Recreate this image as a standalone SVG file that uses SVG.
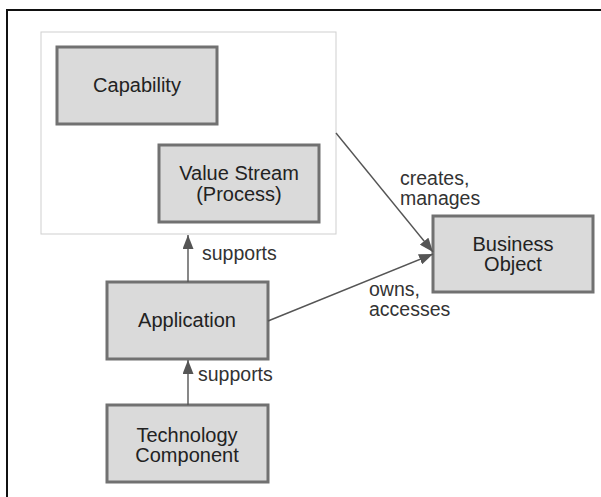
<svg xmlns="http://www.w3.org/2000/svg" width="601" height="497" viewBox="0 0 601 497">
<style>
.box{fill:#dadada;stroke:#717171;stroke-width:3}
.t{font-family:"Liberation Sans",Arial,sans-serif;font-size:20px;fill:#222;text-anchor:middle}
.lbl{font-family:"Liberation Sans",Arial,sans-serif;font-size:19.5px;fill:#333}
.edge{stroke:#555;stroke-width:1.4;fill:none;marker-end:url(#arr)}
</style>
<defs>
<marker id="arr" viewBox="0 0 14 11" refX="14" refY="5.5" markerWidth="14" markerHeight="11" markerUnits="userSpaceOnUse" orient="auto">
<path d="M0,0 L14,5.5 L0,11 z" fill="#555"/>
</marker>
</defs>
<rect width="601" height="497" fill="#fff"/>
<path d="M7,497 V10 H601" fill="none" stroke="#111" stroke-width="2"/>
<g id="container">
<rect x="41" y="32" width="295" height="202" fill="#fff" stroke="#cfcfcf" stroke-width="1"/>
</g>
<g id="capability">
<rect class="box" x="57" y="47" width="160" height="77"/>
<text class="t" x="137" y="92">Capability</text>
</g>
<g id="value-stream">
<rect class="box" x="159" y="145" width="160" height="77"/>
<text class="t" x="239" y="180">Value Stream</text>
<text class="t" x="239" y="201">(Process)</text>
</g>
<g id="business-object">
<rect class="box" x="433" y="216" width="160" height="76"/>
<text class="t" x="513" y="251">Business</text>
<text class="t" x="513" y="271">Object</text>
</g>
<g id="application">
<rect class="box" x="107" y="282" width="161" height="77"/>
<text class="t" x="187" y="327">Application</text>
</g>
<g id="technology-component">
<rect class="box" x="107" y="405" width="161" height="77"/>
<text class="t" x="187" y="442">Technology</text>
<text class="t" x="187" y="462">Component</text>
</g>
<g id="connectors">
<line class="edge" x1="188" y1="282" x2="188" y2="235"/>
<line class="edge" x1="188" y1="405" x2="188" y2="360"/>
<line class="edge" x1="336" y1="133" x2="433" y2="252"/>
<line class="edge" x1="268" y1="321" x2="433" y2="254"/>
<text class="lbl" x="202" y="260">supports</text>
<text class="lbl" x="198" y="381">supports</text>
<text class="lbl" x="400" y="185">creates,</text>
<text class="lbl" x="400" y="205">manages</text>
<text class="lbl" x="369" y="296">owns,</text>
<text class="lbl" x="369" y="316">accesses</text>
</g>
</svg>
